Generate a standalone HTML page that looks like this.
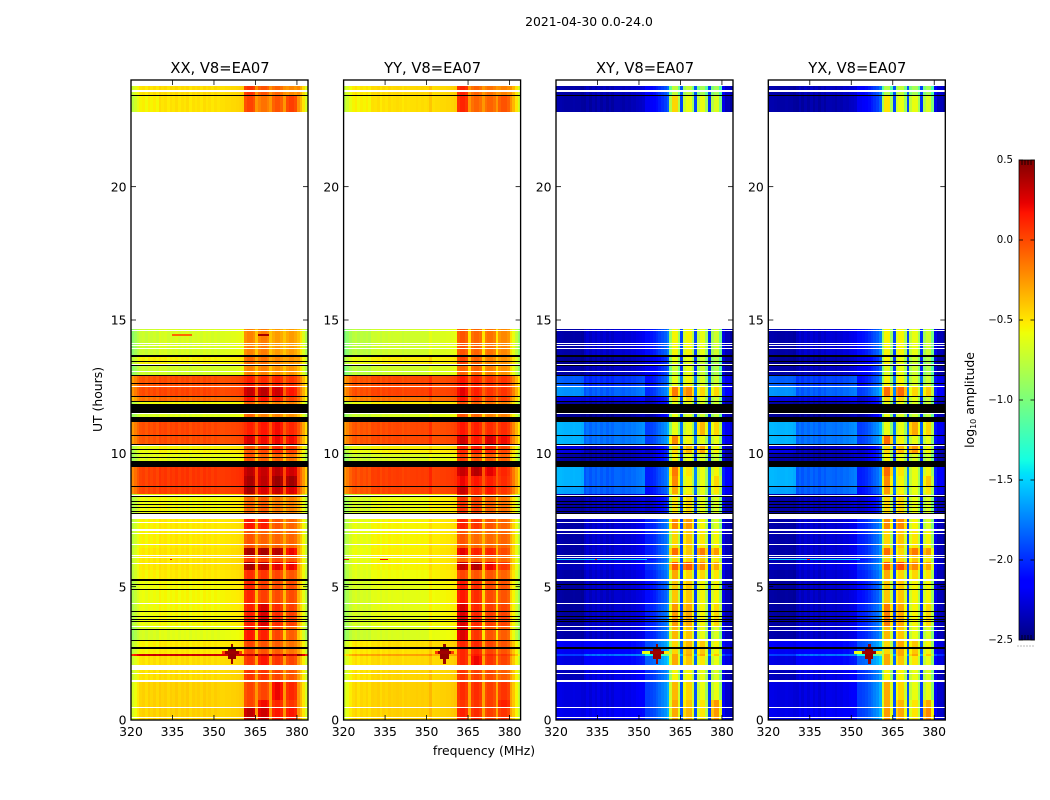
<!DOCTYPE html>
<html>
<head>
<meta charset="utf-8">
<title>2021-04-30 amplitude waterfall</title>
<style>
html,body{margin:0;padding:0;background:#fff;}
svg{display:block;}
text{font-family:"DejaVu Sans","Liberation Sans",sans-serif;fill:#000;}
</style>
</head>
<body>
<svg id="figure" xmlns="http://www.w3.org/2000/svg" width="1050" height="800" viewBox="0 0 1050 800">
<rect x="0" y="0" width="1050" height="800" fill="#fff"/>
<text x="589" y="26" font-size="12.4" text-anchor="middle">2021-04-30 0.0-24.0</text>
<text x="484" y="755" font-size="12.4" text-anchor="middle">frequency (MHz)</text>
<text transform="translate(102,399.5) rotate(-90)" font-size="12.4" text-anchor="middle">UT (hours)</text>
<text transform="translate(974,400) rotate(-90)" font-size="12.4" text-anchor="middle">log<tspan font-size="8" dy="2">10</tspan><tspan dy="-2"> amplitude</tspan></text>
</svg>
<script>
// ---------- axis tick labels ----------
const freqTicks = [320, 335, 350, 365, 380];
const hourTicks = [0, 5, 10, 15, 20];
const colorTicks = [0.5, 0.0, -0.5, -1.0, -1.5, -2.0, -2.5];

// ---------- time rows (UT hours, top and bottom of each observed block) ----------
const scanTopHours = [23.775,23.4,14.651,13.688,13.275,12.9,12.488,12.113,11.963,11.513,11.186,10.688,10.313,10.013,9.488,9.15,8.738,8.475,7.538,7.125,6.45,6.188,5.925,5.625,5.288,4.388,3.525,3.0,2.475,2.4,1.875,1.425,0.75,0.488];
const scanBottomHours = [23.4,22.8,13.688,13.275,12.9,12.488,12.113,11.963,11.513,11.186,10.688,10.313,10.013,9.488,9.15,8.738,8.475,7.538,7.125,6.45,6.188,5.925,5.625,5.288,4.388,3.525,3.0,2.475,2.4,1.875,1.425,0.75,0.488,0];

// log10 amplitude per block. Columns: low band, mid band, upper band, sub-band 1-4, edge band.
const xxLevels = [
[-.5,-.48,-.45,.05,-.05,-.1,-.22,-.42],
[-.55,-.5,-.45,0,-.15,-.05,.02,-.45],
[-.72,-.68,-.62,-.2,-.18,-.28,-.28,-.6],
[-.55,-.55,-.52,-.12,-.15,-.22,-.25,-.5],
[-.72,-.7,-.64,-.2,-.2,-.25,-.25,-.6],
[-.05,-.02,0,.12,.08,.1,.05,-.3],
[-.02,0,.02,.3,.33,.28,.15,-.28],
[-.15,-.12,-.1,.15,.15,.1,0,-.35],
[-.6,-.58,-.55,-.1,-.15,-.2,-.2,-.55],
[-.68,-.65,-.6,-.1,-.2,-.2,-.25,-.6],
[-.03,0,.02,.12,.15,.18,.1,-.25],
[-.05,-.02,0,.25,.18,.2,.18,-.3],
[-.6,-.55,-.5,-.05,0,.08,.02,-.5],
[-.65,-.62,-.58,-.05,-.1,-.1,-.15,-.6],
[.02,.05,.08,.33,.3,.33,.28,-.2],
[.02,.05,.08,.38,.32,.42,.4,-.2],
[0,.03,.05,.38,.25,.3,.25,-.25],
[-.6,-.58,-.52,-.12,-.08,-.18,-.2,-.55],
[-.55,-.52,-.48,.15,.12,-.05,-.1,-.5],
[-.55,-.52,-.48,-.05,-.1,-.1,-.1,-.5],
[-.52,-.5,-.46,.38,.38,.35,.2,-.5],
[-.52,-.5,-.46,.05,0,0,-.05,-.5],
[-.52,-.5,-.46,.38,.32,.22,.2,-.5],
[-.55,-.52,-.48,.08,.05,0,-.05,-.52],
[-.6,-.57,-.52,.1,.02,-.02,-.02,-.55],
[-.6,-.57,-.52,.12,.25,.08,.02,-.55],
[-.68,-.64,-.58,.15,.12,0,-.08,-.62],
[-.55,-.52,-.48,0,-.05,-.08,-.15,-.5],
[.3,.3,.3,.3,.3,.3,.3,.3],
[-.5,-.48,-.44,.05,.15,.05,0,-.48],
[-.5,-.48,-.44,.05,.05,0,-.05,-.48],
[-.45,-.44,-.42,0,0,.2,.1,-.45],
[-.45,-.44,-.42,0,.18,.1,.05,-.45],
[-.45,-.44,-.42,.32,.28,.15,.15,-.45]
];
const yyLevels = [
[-.52,-.48,-.45,.1,-.1,-.15,-.2,-.45],
[-.55,-.5,-.45,.1,-.1,-.1,-.05,-.45],
[-.78,-.72,-.64,-.05,-.1,-.15,-.22,-.7],
[-.6,-.55,-.52,0,-.1,-.2,-.25,-.6],
[-.78,-.72,-.64,-.1,-.1,-.2,-.25,-.7],
[-.05,-.02,0,.15,.1,.05,.05,-.3],
[-.03,0,.02,.22,.12,.05,.05,-.28],
[-.2,-.15,-.1,.15,.05,0,0,-.4],
[-.6,-.55,-.5,-.05,-.1,-.15,-.2,-.6],
[-.72,-.68,-.6,-.05,-.1,-.2,-.2,-.65],
[-.05,-.02,0,.15,.12,.08,.08,-.3],
[-.05,-.02,0,.28,.15,.25,.18,-.3],
[-.6,-.55,-.5,.1,.12,.08,0,-.55],
[-.72,-.68,-.6,.02,-.05,-.08,-.1,-.65],
[-.02,.02,.05,.3,.35,.22,.1,-.25],
[-.02,.02,.05,.2,.15,.12,.08,-.25],
[-.05,0,.02,.3,.1,.15,.05,-.28],
[-.68,-.62,-.52,.05,0,-.1,-.15,-.6],
[-.62,-.57,-.5,.12,.05,-.05,-.1,-.55],
[-.62,-.57,-.5,-.05,-.12,-.12,-.1,-.55],
[-.6,-.55,-.48,.22,.12,.1,-.02,-.55],
[-.62,-.57,-.5,-.1,-.1,-.1,-.12,-.55],
[-.62,-.57,-.5,.3,.35,.2,.05,-.55],
[-.65,-.6,-.52,0,-.05,-.05,-.1,-.6],
[-.68,-.64,-.55,.15,.08,-.02,-.05,-.65],
[-.68,-.64,-.55,.25,.1,.02,0,-.65],
[-.72,-.68,-.58,.25,.05,-.05,-.08,-.7],
[-.52,-.5,-.45,.1,.1,0,-.05,-.5],
[-.3,-.3,-.3,.1,.15,.1,.05,-.35],
[-.5,-.48,-.44,.1,.2,.05,0,-.5],
[-.5,-.47,-.44,.05,.02,-.02,-.08,-.5],
[-.47,-.45,-.42,.08,.08,.02,.05,-.5],
[-.47,-.45,-.42,.05,.05,.02,.12,-.5],
[-.47,-.45,-.42,.12,.08,.02,.05,-.5]
];
const xyLevels = [
[-2.4,-2.35,-2.05,-.75,-.75,-.85,-.85,-2.3],
[-2.4,-2.4,-2.1,-.45,-.6,-.6,-.65,-2.35],
[-2.4,-2.3,-2,-.55,-.55,-.6,-.7,-2.35],
[-2.45,-2.4,-2.15,-.6,-.6,-.7,-.8,-2.4],
[-2.4,-2.35,-2.1,-.7,-.6,-.7,-.8,-2.4],
[-1.85,-2,-2,-.6,-.55,-.65,-.7,-2.2],
[-1.7,-1.85,-1.9,-.15,-.2,-.45,-.45,-2.15],
[-2.25,-2.25,-2.2,-.45,-.45,-.6,-.7,-2.35],
[-2.4,-2.4,-2.25,-.6,-.6,-.65,-.7,-2.35],
[-2.45,-2.45,-2.3,-.6,-.65,-.7,-.75,-2.35],
[-1.6,-1.8,-1.85,-.6,-.6,-.35,-.45,-2.2],
[-1.6,-1.8,-1.85,-.2,-.55,-.6,-.6,-2.2],
[-2.25,-2.35,-2.2,-.45,-.35,-.3,-.55,-2.35],
[-2.4,-2.4,-2.2,-.55,-.6,-.65,-.7,-2.4],
[-1.6,-1.85,-1.95,-.15,-.5,-.6,-.55,-2.15],
[-1.6,-1.85,-1.95,-.2,-.55,-.6,-.45,-2.15],
[-1.65,-1.85,-2,-.3,-.55,-.6,-.5,-2.2],
[-2.4,-2.35,-2.2,-.5,-.45,-.6,-.65,-2.35],
[-2.4,-2.3,-1.95,-.2,-.25,-.55,-.65,-2.35],
[-2.4,-2.3,-1.95,-.45,-.4,-.5,-.55,-2.35],
[-2.4,-2.3,-1.95,-.1,-.4,-.15,-.25,-2.35],
[-2.4,-2.3,-1.95,-.45,-.45,-.4,-.5,-2.35],
[-2.35,-2.25,-1.9,-.05,-.05,-.2,-.3,-2.3],
[-2.4,-2.3,-1.95,-.3,-.45,-.45,-.5,-2.35],
[-2.42,-2.32,-2,-.4,-.4,-.55,-.55,-2.35],
[-2.42,-2.32,-1.95,-.25,-.3,-.55,-.45,-2.35],
[-2.4,-2.32,-1.95,-.35,-.4,-.6,-.65,-2.35],
[-2.2,-2.15,-1.8,-.45,-.35,-.4,-.55,-2.25],
[-1.95,-1.8,-1.3,-.3,-.3,-.3,-.4,-2],
[-2.25,-2.15,-1.75,-.3,-.4,-.5,-.6,-2.25],
[-2.35,-2.25,-1.9,-.55,-.55,-.6,-.65,-2.35],
[-2.25,-2.25,-1.85,-.35,-.45,-.6,-.6,-2.3],
[-2.25,-2.25,-1.85,-.3,-.4,-.5,-.25,-2.3],
[-2.22,-2.2,-1.85,-.3,-.35,-.5,-.25,-2.3]
];
const yxLevels = [
[-2.4,-2.35,-2.05,-.8,-.75,-.85,-.85,-2.3],
[-2.4,-2.4,-2.1,-.5,-.6,-.6,-.65,-2.35],
[-2.4,-2.3,-2,-.55,-.55,-.6,-.7,-2.35],
[-2.45,-2.4,-2.15,-.55,-.6,-.7,-.8,-2.4],
[-2.4,-2.35,-2.1,-.65,-.6,-.7,-.8,-2.4],
[-1.85,-1.95,-2,-.55,-.55,-.65,-.7,-2.2],
[-1.7,-1.85,-1.85,-.1,-.1,-.45,-.4,-2.15],
[-2.25,-2.25,-2.2,-.45,-.45,-.6,-.7,-2.35],
[-2.4,-2.4,-2.25,-.6,-.6,-.65,-.7,-2.35],
[-2.45,-2.45,-2.3,-.6,-.65,-.7,-.75,-2.35],
[-1.6,-1.8,-1.85,-.6,-.6,-.3,-.45,-2.2],
[-1.6,-1.8,-1.85,-.1,-.55,-.6,-.6,-2.2],
[-2.25,-2.35,-2.2,-.45,-.35,-.25,-.55,-2.35],
[-2.4,-2.4,-2.2,-.55,-.6,-.65,-.7,-2.4],
[-1.6,-1.85,-1.95,-.1,-.5,-.6,-.55,-2.15],
[-1.6,-1.85,-1.95,-.2,-.55,-.6,-.4,-2.15],
[-1.65,-1.85,-2,-.25,-.55,-.6,-.5,-2.2],
[-2.4,-2.35,-2.2,-.45,-.45,-.6,-.65,-2.35],
[-2.4,-2.3,-1.95,-.2,-.2,-.55,-.65,-2.35],
[-2.4,-2.3,-1.95,-.45,-.4,-.5,-.55,-2.35],
[-2.4,-2.3,-1.95,-.1,-.45,-.15,-.25,-2.35],
[-2.4,-2.3,-1.95,-.45,-.45,-.4,-.5,-2.35],
[-2.35,-2.25,-1.9,-.05,0,-.2,-.3,-2.3],
[-2.4,-2.3,-1.95,-.3,-.45,-.45,-.5,-2.35],
[-2.42,-2.32,-2,-.4,-.4,-.55,-.55,-2.35],
[-2.42,-2.32,-1.95,-.15,-.3,-.55,-.45,-2.35],
[-2.4,-2.32,-1.95,-.35,-.4,-.6,-.65,-2.35],
[-2.2,-2.15,-1.8,-.45,-.3,-.4,-.55,-2.25],
[-1.95,-1.8,-1.3,-.3,-.3,-.3,-.4,-2],
[-2.25,-2.15,-1.75,-.3,-.4,-.5,-.6,-2.25],
[-2.35,-2.25,-1.9,-.55,-.55,-.6,-.65,-2.35],
[-2.25,-2.25,-1.85,-.3,-.45,-.6,-.6,-2.3],
[-2.25,-2.25,-1.85,-.3,-.35,-.5,-.3,-2.3],
[-2.22,-2.2,-1.85,-.25,-.3,-.5,-.2,-2.3]
];

// Which level column each of the 64 1-MHz channels reads from.
const channelColumn = [0,0,0,0,0,0,0,0,0,0,1,1,1,1,1,1,1,1,1,1,1,1,1,1,1,1,1,1,1,1,1,1,2,2,2,2,2,2,2,2,2,3,3,3,3,7,4,4,4,4,7,5,5,5,5,7,6,6,6,6,7,7,7,7];
// Per-channel fine structure added to the block level.
const xxChannelOffset = [-.22,-.14,-.06,0,.02,-.02,.03,0,.03,-.01,.03,0,.02,-.02,.02,0,.03,-.01,.02,0,.03,-.02,.02,0,.02,-.01,.03,0,.02,-.01,.02,0,-.03,-.03,-.02,-.02,-.01,-.01,0,.01,.03,-.03,.02,.02,-.03,.2,-.03,.02,.02,-.03,.2,-.03,.02,.02,-.03,.2,-.03,.02,.02,-.03,.22,.1,-.05,-.22];
const yyChannelOffset = [-.22,-.14,-.06,0,.03,-.02,.02,0,.03,-.01,.02,.01,.03,-.02,.02,0,.03,.01,.02,.03,.02,-.01,.02,.01,.02,.02,.03,.02,.03,.02,.03,.1,-.03,-.02,-.02,-.01,-.01,0,0,.01,.03,-.03,.02,.02,-.03,.2,-.03,.02,.02,-.03,.2,-.03,.02,.02,-.03,.2,-.03,.02,.02,-.03,.22,.1,-.05,-.22];
const crossChannelOffset = [.02,.02,.01,0,0,0,.01,0,0,-.02,-.03,.02,-.03,.02,-.02,.03,-.02,.02,-.03,.02,-.02,.03,.03,.02,0,.03,.02,.05,.04,.07,.08,.1,-.1,-.1,-.08,-.05,0,.05,.1,.15,.25,-.35,0,0,-.35,.42,-.12,0,0,-.28,.42,-.15,0,0,-.28,.36,-.15,0,0,-.35,.12,0,0,-.06];

// Flagged time rows [top hour, bottom hour] that were drawn white (no data) or black.
const whiteRowsAll = [[23.625,23.55],[14.614,14.588],[14.156,14.119],[14.048,14.01],[13.935,13.898],[13.35,13.313],[13.088,13.05],[12.514,12.476],[11.513,11.475],[10.313,10.275],[8.456,8.4],[7.725,7.538],[7.425,7.388],[7.144,7.106],[7.013,6.975],[6.6,6.563],[6.188,6.15],[6.113,6.075],[5.888,5.85],[4.388,4.35],[3.525,3.488],[2.081,1.875],[1.763,1.725],[1.5,1.425],[.488,.45],[.113,.075]];
const whiteRowsCross = [[5.306,5.231],[3.375,3.319],[3.038,2.981]];
const blackRowsAll = [[23.438,23.393],[13.688,13.624],[13.463,13.425],[13.301,13.275],[12.938,12.9],[12.619,12.589],[12.15,12.113],[11.981,11.951],[11.85,11.513],[11.363,11.186],[10.688,10.658],[10.35,10.313],[10.181,10.136],[10.013,9.983],[9.881,9.851],[9.731,9.701],[9.686,9.499],[8.764,8.738],[8.4,8.37],[8.194,8.164],[8.1,8.07],[7.969,7.939],[7.838,7.808],[7.751,7.725],[5.1,5.063],[4.913,4.875],[4.088,4.05],[3.9,3.863],[3.788,3.75],[3.701,3.675],[2.719,2.644]];
const blackRowsParallel = [[5.288,5.231],[3.413,3.375],[3,2.944]];

// Interference cells: [top hour, bottom hour, first channel, last channel, log10 amplitude].
const xxInterference = [[2.85,2.7,36,36,.45],[2.7,2.6,35,37,.45],[2.6,2.48,34,38,.42],[2.6,2.48,33,33,.05],[2.6,2.48,39,39,.05],[2.48,2.3,35,37,.45],[2.3,2.1,36,36,.42],[14.46,14.4,15,21,-.1],[14.46,14.4,46,49,.4],[6.05,6.0,14,14,.2]];
const yyInterference = [[2.85,2.7,36,36,.45],[2.7,2.6,35,37,.45],[2.6,2.48,34,38,.42],[2.6,2.48,33,33,.05],[2.6,2.48,39,39,.05],[2.48,2.3,35,37,.45],[2.3,2.1,36,36,.42],[6.05,6.0,0,1,.2],[6.05,6.0,13,15,.2]];
const xyInterference = [[2.85,2.7,36,36,.45],[2.7,2.6,35,37,.45],[2.6,2.48,34,38,.42],[2.6,2.48,31,33,-.6],[2.6,2.48,39,40,-.5],[2.48,2.3,35,37,.45],[2.3,2.1,36,36,.42],[6.05,6.0,0,32,-1.5],[6.05,6.0,14,14,.1]];
const yxInterference = [[2.85,2.7,36,36,.45],[2.7,2.6,35,37,.45],[2.6,2.48,34,38,.42],[2.6,2.48,31,33,-.6],[2.6,2.48,39,40,-.5],[2.48,2.3,35,37,.45],[2.3,2.1,36,36,.42],[6.05,6.0,0,32,-1.5],[6.05,6.0,14,14,.1]];

// ---------- axes ----------
const PANEL_W = 177, PANEL_TOP = 80, PANEL_H = 640;
const xAxis = (left, mhz) => left + (mhz - 320) / 64 * PANEL_W;
const yAxis = hour => PANEL_TOP + PANEL_H - hour / 24 * PANEL_H;
const cbTop = 160, cbH = 480, cbLeft = 1019, cbW = 15.5;
const cbAxis = v => cbTop + (0.5 - v) / 3 * cbH;

function seg(points, p) {
  for (let i = 1; i < points.length; i++) {
    if (p <= points[i][0]) {
      const a = points[i - 1], b = points[i];
      return a[1] + (b[1] - a[1]) * (p - a[0]) / (b[0] - a[0]);
    }
  }
  return points[points.length - 1][1];
}
const jetR = [[0,0],[.35,0],[.66,1],[.89,1],[1,.5]];
const jetG = [[0,0],[.125,0],[.375,1],[.64,1],[.91,0],[1,0]];
const jetB = [[0,.5],[.11,1],[.34,1],[.65,0],[1,0]];
function jet(v) {
  const p = Math.max(0, Math.min(1, (v + 2.5) / 3));
  const c = a => Math.round(seg(a, p) * 255);
  return 'rgb(' + c(jetR) + ',' + c(jetG) + ',' + c(jetB) + ')';
}

const svg = document.getElementById('figure');
const NS = 'http://www.w3.org/2000/svg';
function make(tag, attrs, parent) {
  const el = document.createElementNS(NS, tag);
  for (const k in attrs) el.setAttribute(k, attrs[k]);
  (parent || svg).appendChild(el);
  return el;
}
function band(group, left, top, bottom, c0, c1, fill) {
  const y0 = Math.round(yAxis(top));
  const y1 = Math.round(yAxis(bottom));
  const x0 = Math.round(xAxis(left, 320 + c0));
  const x1 = Math.round(xAxis(left, 320 + c1 + 1));
  return make('rect', {x: x0, y: y0, width: x1 - x0, height: Math.max(1, y1 - y0), fill: fill, 'shape-rendering': 'crispEdges'}, group);
}

const panels = [
  {title: 'XX, V8=EA07', key: 'xx', left: 131, levels: xxLevels, offset: xxChannelOffset, rfi: xxInterference, cross: false},
  {title: 'YY, V8=EA07', key: 'yy', left: 343.6, levels: yyLevels, offset: yyChannelOffset, rfi: yyInterference, cross: false},
  {title: 'XY, V8=EA07', key: 'xy', left: 556, levels: xyLevels, offset: crossChannelOffset, rfi: xyInterference, cross: true},
  {title: 'YX, V8=EA07', key: 'yx', left: 768.3, levels: yxLevels, offset: crossChannelOffset, rfi: yxInterference, cross: true}
];

panels.forEach(function (panel) {
  const g = make('g', {});
  
  

  const heat = make('g', {}, g);
  
  

  scanTopHours.forEach(function (top, row) {
    for (let ch = 0; ch < 64; ch++) {
      const v = panel.levels[row][channelColumn[ch]] + panel.offset[ch];
      const cell = band(heat, panel.left, top, scanBottomHours[row], ch, ch, jet(v));
      
      
    }
  });

  panel.rfi.forEach(function (r) {
    const cell = band(heat, panel.left, r[0], r[1], r[2], r[3], jet(r[4]));
    
    
  });

  const whites = panel.cross ? whiteRowsAll.concat(whiteRowsCross) : whiteRowsAll;
  const blacks = panel.cross ? blackRowsAll : blackRowsAll.concat(blackRowsParallel);
  whites.forEach(function (r) {
    const row = band(heat, panel.left, r[0], r[1], 0, 63, '#fff');
    
    
  });
  blacks.forEach(function (r) {
    const row = band(heat, panel.left, r[0], r[1], 0, 63, '#000');
    
    
  });

  const frame = make('rect', {x: panel.left, y: PANEL_TOP, width: PANEL_W, height: PANEL_H, fill: 'none', stroke: '#000', 'stroke-width': 1.33}, g);
  
  

  const title = make('text', {x: panel.left + PANEL_W / 2 + 0.5, y: 73, 'font-size': 14.7, 'text-anchor': 'middle'}, g);
  title.textContent = panel.title;
  
  

  freqTicks.forEach(function (f) {
    const x = xAxis(panel.left, f);
    const t1 = make('line', {x1: x, x2: x, y1: PANEL_TOP + PANEL_H, y2: PANEL_TOP + PANEL_H - 5, stroke: '#000', 'stroke-width': 0.8}, g);
    
    
    const t2 = make('line', {x1: x, x2: x, y1: PANEL_TOP, y2: PANEL_TOP + 5, stroke: '#000', 'stroke-width': 0.8}, g);
    
    
    const label = make('text', {x: x, y: 736, 'font-size': 12.4, 'text-anchor': 'middle'}, g);
    label.textContent = f;
    
    
  });
  hourTicks.forEach(function (h) {
    const y = yAxis(h);
    const t1 = make('line', {x1: panel.left, x2: panel.left + 5, y1: y, y2: y, stroke: '#000', 'stroke-width': 0.8}, g);
    
    
    const t2 = make('line', {x1: panel.left + PANEL_W - 5, x2: panel.left + PANEL_W, y1: y, y2: y, stroke: '#000', 'stroke-width': 0.8}, g);
    
    
    const label = make('text', {x: panel.left - 4.5, y: y + 4.7, 'font-size': 12.4, 'text-anchor': 'end'}, g);
    label.textContent = h;
    
    
  });
});

// ---------- colorbar ----------
const cb = make('g', {});


for (let i = 0; i < cbH; i++) {
  const step = make('rect', {x: cbLeft, y: cbTop + i, width: cbW, height: 1, fill: jet(0.5 - (i + 0.5) / cbH * 3), 'shape-rendering': 'crispEdges'}, cb);
  
  
}
const cbFrame = make('rect', {x: cbLeft, y: cbTop, width: cbW, height: cbH, fill: 'none', stroke: '#000', 'stroke-width': 1, 'stroke-opacity': 0.75}, cb);


colorTicks.forEach(function (v) {
  const y = cbAxis(v);
  const t1 = make('line', {x1: cbLeft, x2: cbLeft + 4, y1: y, y2: y, stroke: '#000', 'stroke-width': 0.8}, cb);
  
  
  const t2 = make('line', {x1: cbLeft + cbW - 4, x2: cbLeft + cbW, y1: y, y2: y, stroke: '#000', 'stroke-width': 0.8}, cb);
  
  
  const label = make('text', {x: 1013, y: y + 3, 'font-size': 10.2, 'text-anchor': 'end'}, cb);
  label.textContent = (v < 0 ? '\u2212' : '') + Math.abs(v).toFixed(1);
  
  
});
[1022, 1025, 1028, 1031].forEach(function (x) {
  const c1 = make('line', {x1: x, x2: x, y1: cbTop, y2: cbTop + 5, stroke: '#000', 'stroke-width': 0.8}, cb);
  
  
  const c2 = make('line', {x1: x, x2: x, y1: cbTop + cbH - 5, y2: cbTop + cbH, stroke: '#000', 'stroke-width': 0.8}, cb);
  
  
});
const dots = make('line', {x1: 1017.5, x2: 1034.5, y1: 646, y2: 646, stroke: '#777', 'stroke-width': 1, 'stroke-dasharray': '1 2'}, cb);


</script>
</body>
</html>
